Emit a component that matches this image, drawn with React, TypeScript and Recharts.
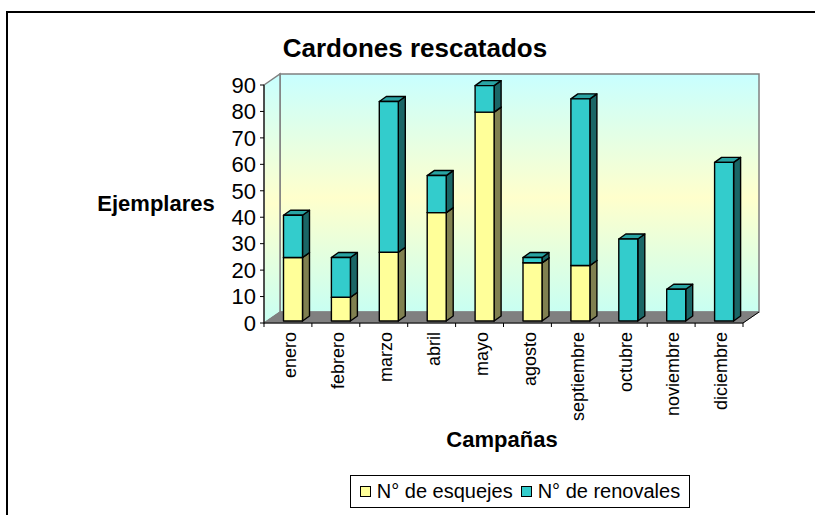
import { BarChart, Bar, XAxis, YAxis, Legend, Customized } from 'recharts'

const months = ['enero', 'febrero', 'marzo', 'abril', 'mayo', 'agosto', 'septiembre', 'octubre', 'noviembre', 'diciembre']
const esquejes = [24, 9, 26, 41, 79, 22, 21, 0, 0, 0]
const renovales = [16, 15, 57, 14, 10, 2, 63, 31, 12, 60]
const yTicks = [0, 10, 20, 30, 40, 50, 60, 70, 80, 90]

const data = months.map((m, i) => ({ mes: m, esquejes: esquejes[i], renovales: renovales[i] }))

const W = 815
const H = 515
const LEFT = 264
const RIGHT = 743
const TOP = 85
const BOTTOM = 323
const DEPTH_X = 16
const DEPTH_Y = 11
const BAND = (RIGHT - LEFT) / months.length
const FONT = '"Liberation Sans", Arial, sans-serif'

// bar depth and placement inside the 3D box
const BDX = 7
const BDY = 5
const SHIFT_X = 5.5
const SHIFT_Y = 2

function Bar3D(props: any) {
  const { x, y, width, height, front, side, top } = props
  if (!height || height <= 0) return null
  const x0 = x + SHIFT_X
  const y0 = y - SHIFT_Y
  const x1 = x0 + width
  const y1 = y0 + height
  return (
    <g stroke="#000" strokeWidth={1.4} strokeLinejoin="round">
      <polygon points={`${x1},${y0} ${x1 + BDX},${y0 - BDY} ${x1 + BDX},${y1 - BDY} ${x1},${y1}`} fill={side} />
      <polygon points={`${x0},${y0} ${x0 + BDX},${y0 - BDY} ${x1 + BDX},${y0 - BDY} ${x1},${y0}`} fill={top} />
      <rect x={x0} y={y0} width={width} height={height} fill={front} />
    </g>
  )
}

function MonthTick({ x, y, payload, index }: any) {
  return (
    <g>
      <line x1={x - BAND / 2} y1={y} x2={x - BAND / 2} y2={y + 4} stroke="#000" />
      {index === months.length - 1 && <line x1={x + BAND / 2} y1={y} x2={x + BAND / 2} y2={y + 4} stroke="#000" />}
      <text
        transform={`translate(${x + 2},${y + 9}) rotate(-90)`}
        textAnchor="end"
        dy="0.35em"
        fontSize={18}
        fontFamily={FONT}
        fill="#000"
      >
        {payload.value}
      </text>
    </g>
  )
}

function Walls() {
  return (
    <g>
      <defs>
        <linearGradient id="wallGrad" x1="0" y1="0" x2="0" y2="1">
          <stop offset="0%" stopColor="#c8ffff" />
          <stop offset="52%" stopColor="#ffffcc" />
          <stop offset="100%" stopColor="#c8fff2" />
        </linearGradient>
      </defs>
      <path d={`M7,${H} V12 H${W}`} fill="none" stroke="#000" strokeWidth={2} />
      <rect x={LEFT + DEPTH_X} y={TOP - DEPTH_Y} width={RIGHT - LEFT} height={BOTTOM - TOP}
        fill="url(#wallGrad)" stroke="#808080" strokeWidth={1.5} />
      <polygon points={`${LEFT},${TOP} ${LEFT + DEPTH_X},${TOP - DEPTH_Y} ${LEFT + DEPTH_X},${BOTTOM - DEPTH_Y} ${LEFT},${BOTTOM}`}
        fill="url(#wallGrad)" stroke="#808080" strokeWidth={1.5} />
      <polygon points={`${LEFT},${BOTTOM} ${RIGHT},${BOTTOM} ${RIGHT + DEPTH_X},${BOTTOM - DEPTH_Y} ${LEFT + DEPTH_X},${BOTTOM - DEPTH_Y}`}
        fill="#808080" stroke="#808080" />
      <line x1={RIGHT} y1={BOTTOM} x2={RIGHT + DEPTH_X} y2={BOTTOM - DEPTH_Y} stroke="#000" />
      <text x={415} y={57} textAnchor="middle" fontSize={26} fontWeight="bold" fontFamily={FONT} fill="#000">
        Cardones rescatados
      </text>
      <text x={156} y={211} textAnchor="middle" fontSize={22} fontWeight="bold" fontFamily={FONT} fill="#000">
        Ejemplares
      </text>
      <text x={502} y={447} textAnchor="middle" fontSize={22} fontWeight="bold" fontFamily={FONT} fill="#000">
        Campañas
      </text>
    </g>
  )
}

function LegendBox({ payload }: any) {
  return (
    <div style={{
      border: '1px solid #000', background: '#fff', height: 31, display: 'flex',
      alignItems: 'center', justifyContent: 'center', gap: 8, fontFamily: FONT, fontSize: 20, color: '#000',
    }}>
      {(payload || []).map((p: any) => (
        <span key={p.value} style={{ display: 'flex', alignItems: 'center' }}>
          <span style={{ width: 9, height: 9, border: '1px solid #000', background: p.color, marginRight: 6 }} />
          {p.value}
        </span>
      ))}
    </div>
  )
}

export default function App() {
  return (
    <div style={{ position: 'absolute', left: 0, top: 0, width: W, height: H, background: '#fff' }}>
      <BarChart width={W} height={H} data={data}
        margin={{ top: TOP, right: W - RIGHT, bottom: 0, left: 0 }}>
        <Customized component={Walls} />
        <XAxis dataKey="mes" tickLine={false} tickSize={0} tickMargin={0} interval={0}
          axisLine={{ stroke: '#000' }} tick={<MonthTick />} height={H - BOTTOM} />
        <YAxis domain={[0, 90]} ticks={yTicks} interval={0} width={LEFT}
          tick={{ fontSize: 22, fill: '#000', fontFamily: FONT }}
          tickLine={{ stroke: '#000' }} axisLine={{ stroke: '#000' }} tickSize={4} tickMargin={4} />
        <Legend layout="horizontal" verticalAlign="middle" align="center" content={<LegendBox />}
          wrapperStyle={{ position: 'absolute', left: 350, top: 475, width: 340, height: 33 }} />
        <Bar dataKey="esquejes" name="N° de esquejes" stackId="a" fill="#ffff99" barSize={19} isAnimationActive={false}
          shape={(p: any) => <Bar3D {...p} front="#ffff99" side="#808050" top="#cccc7a" />} />
        <Bar dataKey="renovales" name="N° de renovales" stackId="a" fill="#33cccc" barSize={19} isAnimationActive={false}
          shape={(p: any) => <Bar3D {...p} front="#33cccc" side="#1a6666" top="#29a3a3" />} />
      </BarChart>
    </div>
  )
}
